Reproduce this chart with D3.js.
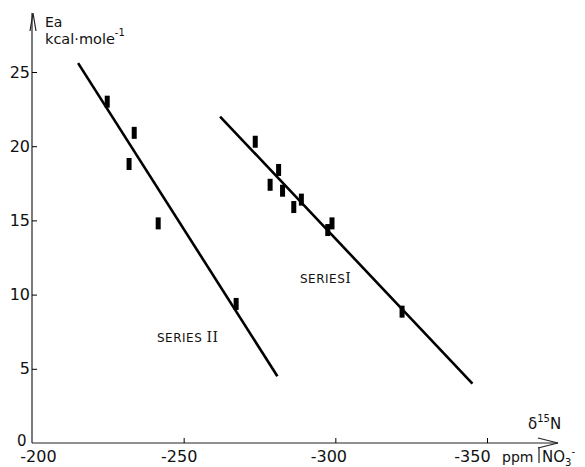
<!DOCTYPE html>
<html>
<head>
<meta charset="utf-8">
<script src="https://cdn.jsdelivr.net/npm/d3@7"></script>
<style>
  body { margin: 0; background: #fff; }
  text { font-family: "DejaVu Sans", sans-serif; fill: #111; }
</style>
</head>
<body>
<div id="chart"></div>
<script>
// shift in ppm (x) and activation energy (y)
var series1X = [-273.6, -281.3, -278.5, -282.6, -288.8, -286.3, -298.9, -297.5, -322.0];
var series1Y = [20.3, 18.4, 17.4, 17.0, 16.4, 15.9, 14.8, 14.35, 8.85];
var series2X = [-224.8, -233.7, -232.0, -241.6, -267.3];
var series2Y = [23.0, 20.9, 18.8, 14.8, 9.37];
// fitted lines, end points
var fit1 = [[-262.0, 22.0], [-345.2, 4.0]];
var fit2 = [[-215.2, 25.6], [-280.9, 4.5]];
var xTicks = [-200, -250, -300, -350];
var yTicks = [0, 5, 10, 15, 20, 25];

var svg = d3.select("#chart").append("svg").attr("width", 585).attr("height", 467);

var x = d3.scaleLinear().domain([-200, -350]).range([32, 487]);
var y = d3.scaleLinear().domain([0, 25]).range([443, 72]);

// axes lines with open arrows
svg.append("line").attr("x1", x(-200)).attr("y1", y(0)).attr("x2", x(-200)).attr("y2", 13)
   .attr("stroke", "#222").attr("stroke-width", 1.2);
svg.append("path").attr("d", "M30,31 L33,13 L36,31").attr("fill", "none").attr("stroke", "#222").attr("stroke-width", 1.2);
svg.append("line").attr("x1", x(-200)).attr("y1", y(0)).attr("x2", 558).attr("y2", y(0))
   .attr("stroke", "#222").attr("stroke-width", 1.2);
svg.append("path").attr("d", "M538,438 L558,443 L538,448").attr("fill", "none").attr("stroke", "#222").attr("stroke-width", 1.2);

var yAxis = svg.append("g").attr("transform", "translate(" + x(-200) + ",0)")
   .call(d3.axisLeft(y).tickValues(yTicks.slice(1)).tickSize(-5).tickSizeOuter(0).tickPadding(2));
yAxis.select(".domain").remove();
yAxis.selectAll("text").style("font-size", "16px").attr("font-family", "DejaVu Sans");

// labels sit a little off their ticks in the original
var labelShift = [6, -5, -7, -15];
var xAxis = svg.append("g").attr("transform", "translate(0," + y(0) + ")")
   .call(d3.axisBottom(x).tickValues(xTicks).tickSize(-5).tickSizeOuter(0).tickPadding(8).tickFormat(d3.format("d")));
xAxis.select(".domain").remove();
xAxis.selectAll("line").filter(function(d) { return d == -200; }).remove();
xAxis.selectAll("text").style("font-size", "16px").attr("font-family", "DejaVu Sans")
   .attr("dx", function(d, i) { return labelShift[i]; })
   .text(function(d) { return "-" + Math.abs(d); });

svg.append("text").attr("x", 17).attr("y", 446).style("font-size", "15px").text("0");

// axis titles
svg.append("text").attr("x", 45).attr("y", 27).style("font-size", "14px").text("Ea");
var t = svg.append("text").attr("x", 45).attr("y", 44).style("font-size", "14.5px");
t.append("tspan").text("kcal·mole");
t.append("tspan").attr("dy", -8).style("font-size", "10px").text("-1");

var d = svg.append("text").attr("x", 528).attr("y", 429).style("font-size", "15px");
d.append("tspan").text("δ");
d.append("tspan").attr("dy", -7).style("font-size", "10px").text("15");
d.append("tspan").attr("dy", 7).text("N");

svg.append("text").attr("x", 502).attr("y", 462).style("font-size", "14px").text("ppm");
svg.append("line").attr("x1", 539).attr("y1", 447).attr("x2", 539).attr("y2", 463).attr("stroke", "#222").attr("stroke-width", 1.2);
var n = svg.append("text").attr("x", 542).attr("y", 462).style("font-size", "15px");
n.append("tspan").text("NO");
n.append("tspan").attr("dy", 4).style("font-size", "10px").text("3");
n.append("tspan").attr("dy", -11).style("font-size", "10px").text("-");

// fitted lines
[fit1, fit2].forEach(function(f) {
  svg.append("line")
     .attr("x1", x(f[0][0])).attr("y1", y(f[0][1]))
     .attr("x2", x(f[1][0])).attr("y2", y(f[1][1]))
     .attr("stroke", "#000").attr("stroke-width", 2.6);
});

// points as small bars
function bars(xs, ys) {
  svg.append("g").selectAll("rect").data(xs).enter().append("rect")
     .attr("x", function(v) { return x(v) - 2.5; })
     .attr("y", function(v, i) { return y(ys[i]) - 6; })
     .attr("width", 5).attr("height", 12).attr("fill", "#000");
}
bars(series1X, series1Y);
bars(series2X, series2Y);

// series labels
var s1 = svg.append("text").attr("x", 300).attr("y", 283).style("font-size", "12px").style("letter-spacing", "0.5px");
s1.append("tspan").text("SERIES");
s1.append("tspan").style("font-family", "DejaVu Serif").style("font-size", "14px").text("I");
var s2 = svg.append("text").attr("x", 157).attr("y", 342).style("font-size", "12px").style("letter-spacing", "0.5px");
s2.append("tspan").text("SERIES ");
s2.append("tspan").style("font-family", "DejaVu Serif").style("font-size", "14px").text("II");
</script>
</body>
</html>
